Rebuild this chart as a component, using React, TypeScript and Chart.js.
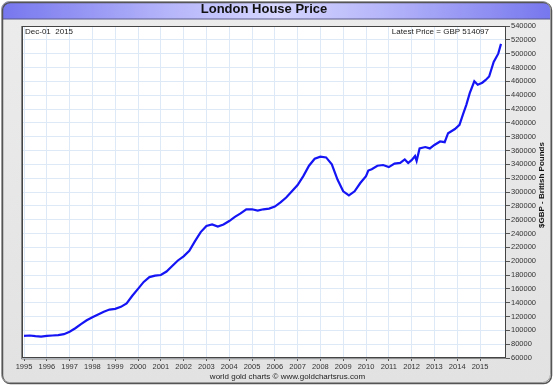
import React, { useEffect, useRef } from 'react';
import { Chart, registerables } from 'chart.js';

Chart.register(...registerables);

const TITLE = 'London House Price';
const FOOTER = 'world gold charts \u00A9 www.goldchartsrus.com';
const DATE_TEXT = 'Dec-01  2015';
const LATEST_TEXT = 'Latest Price = GBP 514097';
const Y_TITLE = '$GBP - British Pounds';

// decimal years
const dates = [
  1995.0, 1995.25, 1995.5, 1995.75, 1996.0, 1996.25, 1996.5, 1996.75,
  1997.0, 1997.25, 1997.5, 1997.75, 1998.0, 1998.25, 1998.5, 1998.75,
  1999.0, 1999.25, 1999.5, 1999.75, 2000.0, 2000.25, 2000.5, 2000.75,
  2001.0, 2001.25, 2001.5, 2001.75, 2002.0, 2002.25, 2002.5, 2002.75,
  2003.0, 2003.25, 2003.5, 2003.75, 2004.0, 2004.25, 2004.5, 2004.75,
  2005.0, 2005.25, 2005.5, 2005.75, 2006.0, 2006.25, 2006.5, 2006.75,
  2007.0, 2007.25, 2007.5, 2007.75, 2008.0, 2008.25, 2008.5, 2008.75,
  2009.0, 2009.25, 2009.5, 2009.75, 2010.0, 2010.1, 2010.25, 2010.5,
  2010.75, 2011.0, 2011.25, 2011.5, 2011.7, 2011.85, 2012.0, 2012.15,
  2012.22, 2012.35, 2012.6, 2012.8, 2013.0, 2013.25, 2013.45, 2013.6,
  2013.9, 2014.1, 2014.25, 2014.4, 2014.55, 2014.75, 2014.9, 2015.1,
  2015.25, 2015.4, 2015.6, 2015.8, 2015.92,
];

const prices = [
  92000, 92500, 91500, 91000, 92000, 92500, 93000, 94500,
  98000, 103000, 109000, 114500, 119000, 123000, 127000, 130000,
  131000, 134000, 139000, 150000, 160000, 170000, 177000, 179000,
  180000, 185000, 193000, 201000, 207000, 215000, 229000, 242000,
  251000, 253000, 250000, 253000, 258000, 264000, 269000, 275000,
  275000, 273000, 275000, 276000, 279000, 285000, 292000, 301000,
  310000, 323000, 338000, 348000, 351000, 350000, 340000, 318000,
  301000, 295000, 301000, 313000, 323000, 331000, 333000, 338000,
  339000, 336000, 341000, 342000, 347000, 342000, 346000, 352000,
  345000, 363000, 365000, 363000, 368000, 373000, 372000, 385000,
  391000, 397000, 412000, 426000, 443000, 460000, 455000, 458000,
  462000, 467000, 488000, 500000, 514097,
];

const yearTicks = [
  1995, 1996, 1997, 1998, 1999, 2000, 2001, 2002, 2003, 2004, 2005,
  2006, 2007, 2008, 2009, 2010, 2011, 2012, 2013, 2014, 2015,
];

const FONT = "'Liberation Sans', Arial, sans-serif";

function roundRectPath(c: CanvasRenderingContext2D, x: number, y: number, w: number, h: number, r: number) {
  c.beginPath();
  c.moveTo(x + r, y);
  c.lineTo(x + w - r, y);
  c.arcTo(x + w, y, x + w, y + r, r);
  c.lineTo(x + w, y + h - r);
  c.arcTo(x + w, y + h, x + w - r, y + h, r);
  c.lineTo(x + r, y + h);
  c.arcTo(x, y + h, x, y + h - r, r);
  c.lineTo(x, y + r);
  c.arcTo(x, y, x + r, y, r);
  c.closePath();
}

export default function App() {
  const ref = useRef<HTMLCanvasElement>(null);

  useEffect(() => {
    document.body.style.margin = '0';
    const canvas = ref.current;
    if (!canvas) return;

    const framePlugin = {
      id: 'frame',
      beforeDraw(chart: any) {
        const c: CanvasRenderingContext2D = chart.ctx;
        const W = chart.width;
        const H = chart.height;
        c.save();
        roundRectPath(c, 1.5, 1.5, W - 4, H - 4, 8);
        const bg = c.createLinearGradient(0, 0, 0, H);
        bg.addColorStop(0, '#ececec');
        bg.addColorStop(1, '#e2e2e2');
        c.fillStyle = bg;
        c.fill();
        c.save();
        c.clip();
        const tb = c.createLinearGradient(0, 0, W, 0);
        tb.addColorStop(0, '#7676ee');
        tb.addColorStop(0.3, '#b4b4fa');
        tb.addColorStop(0.5, '#d6d6ff');
        tb.addColorStop(0.7, '#b4b4fa');
        tb.addColorStop(1, '#7676ee');
        c.fillStyle = tb;
        c.fillRect(0, 0, W, 19);
        c.fillStyle = '#5a5a8a';
        c.fillRect(0, 18.5, W, 1);
        c.restore();
        // shadow
        c.strokeStyle = '#555';
        c.lineWidth = 1.5;
        roundRectPath(c, 2.5, 2.5, W - 4, H - 4, 8);
        c.stroke();
        c.strokeStyle = '#9a9a9a';
        c.lineWidth = 1;
        roundRectPath(c, 1.5, 1.5, W - 4, H - 4, 8);
        c.stroke();
        const a = chart.chartArea;
        c.fillStyle = '#ffffff';
        c.fillRect(a.left, a.top, a.right - a.left, a.bottom - a.top);
        c.restore();
      },
      afterDraw(chart: any) {
        const c: CanvasRenderingContext2D = chart.ctx;
        const a = chart.chartArea;
        c.save();
        c.strokeStyle = '#444';
        c.lineWidth = 1;
        c.strokeRect(a.left + 0.5, a.top + 0.5, a.right - a.left - 1, a.bottom - a.top - 1);
        c.strokeStyle = '#888';
        c.beginPath();
        c.moveTo(a.left - 0.5, a.top);
        c.lineTo(a.left - 0.5, a.bottom + 1);
        c.lineTo(a.right, a.bottom + 0.5);
        c.stroke();
        c.fillStyle = '#222';
        c.font = `8px ${FONT}`;
        c.textBaseline = 'middle';
        c.textAlign = 'left';
        c.fillText(DATE_TEXT, a.left + 3, a.top + 6);
        c.textAlign = 'right';
        c.fillText(LATEST_TEXT, a.right - 17, a.top + 6);
        c.translate(542, (a.top + a.bottom) / 2 - 7);
        c.rotate(-Math.PI / 2);
        c.textAlign = 'center';
        c.font = `bold 8px ${FONT}`;
        c.fillStyle = '#111';
        c.fillText(Y_TITLE, 0, 0);
        c.restore();
      },
    };

    const chart = new Chart(canvas, {
      type: 'line',
      data: {
        datasets: [
          {
            label: TITLE,
            data: dates.map((d, i) => ({ x: d, y: prices[i] })),
            borderColor: '#1414f5',
            borderWidth: 2.2,
            pointRadius: 0,
            tension: 0,
            fill: false,
          },
        ],
      },
      options: {
        animation: false,
        responsive: false,
        devicePixelRatio: 1,
        layout: { padding: { left: 22, right: 0, top: 0, bottom: 0 } },
        plugins: {
          legend: { display: false },
          tooltip: { enabled: false },
          title: {
            display: true,
            text: TITLE,
            fullSize: false,
            color: '#111',
            font: { family: FONT, size: 13, weight: 'bold', lineHeight: 1.2 },
            padding: { top: 2, bottom: 8.4 },
          },
          subtitle: {
            display: true,
            text: FOOTER,
            position: 'bottom',
            color: '#222',
            font: { family: FONT, size: 8, lineHeight: 1.2 },
            padding: { top: 0.2, bottom: 3.2 },
          },
        },
        scales: {
          x: {
            type: 'linear',
            min: 1994.912,
            max: 2016.14,
            afterBuildTicks: (scale: any) => {
              scale.ticks = yearTicks.map((v) => ({ value: v }));
            },
            afterFit: (scale: any) => {
              scale.height = 14;
            },
            grid: {
              color: '#dde9f6',
              lineWidth: 1,
              drawTicks: true,
              tickLength: 3,
              tickColor: '#555',
            },
            border: { display: false },
            ticks: {
              autoSkip: false,
              maxRotation: 0,
              padding: 1,
              color: '#333',
              font: { family: FONT, size: 7.5 },
              callback: (v: any) => String(v),
            },
          },
          y: {
            type: 'linear',
            position: 'right',
            min: 60000,
            max: 540000,
            afterFit: (scale: any) => {
              scale.width = 47;
            },
            grid: {
              color: '#dde9f6',
              lineWidth: 1,
              drawTicks: true,
              tickLength: 4,
              tickColor: '#555',
            },
            border: { display: false },
            ticks: {
              stepSize: 20000,
              autoSkip: false,
              padding: 1,
              color: '#333',
              font: { family: FONT, size: 7.5 },
              callback: (v: any) => String(v),
            },
          },
        },
      },
      plugins: [framePlugin],
    });

    return () => {
      chart.destroy();
    };
  }, []);

  return (
    <div style={{ position: 'absolute', left: 0, top: 0, width: 553, height: 385 }}>
      <canvas ref={ref} width={553} height={385} style={{ display: 'block', width: 553, height: 385 }} />
    </div>
  );
}
